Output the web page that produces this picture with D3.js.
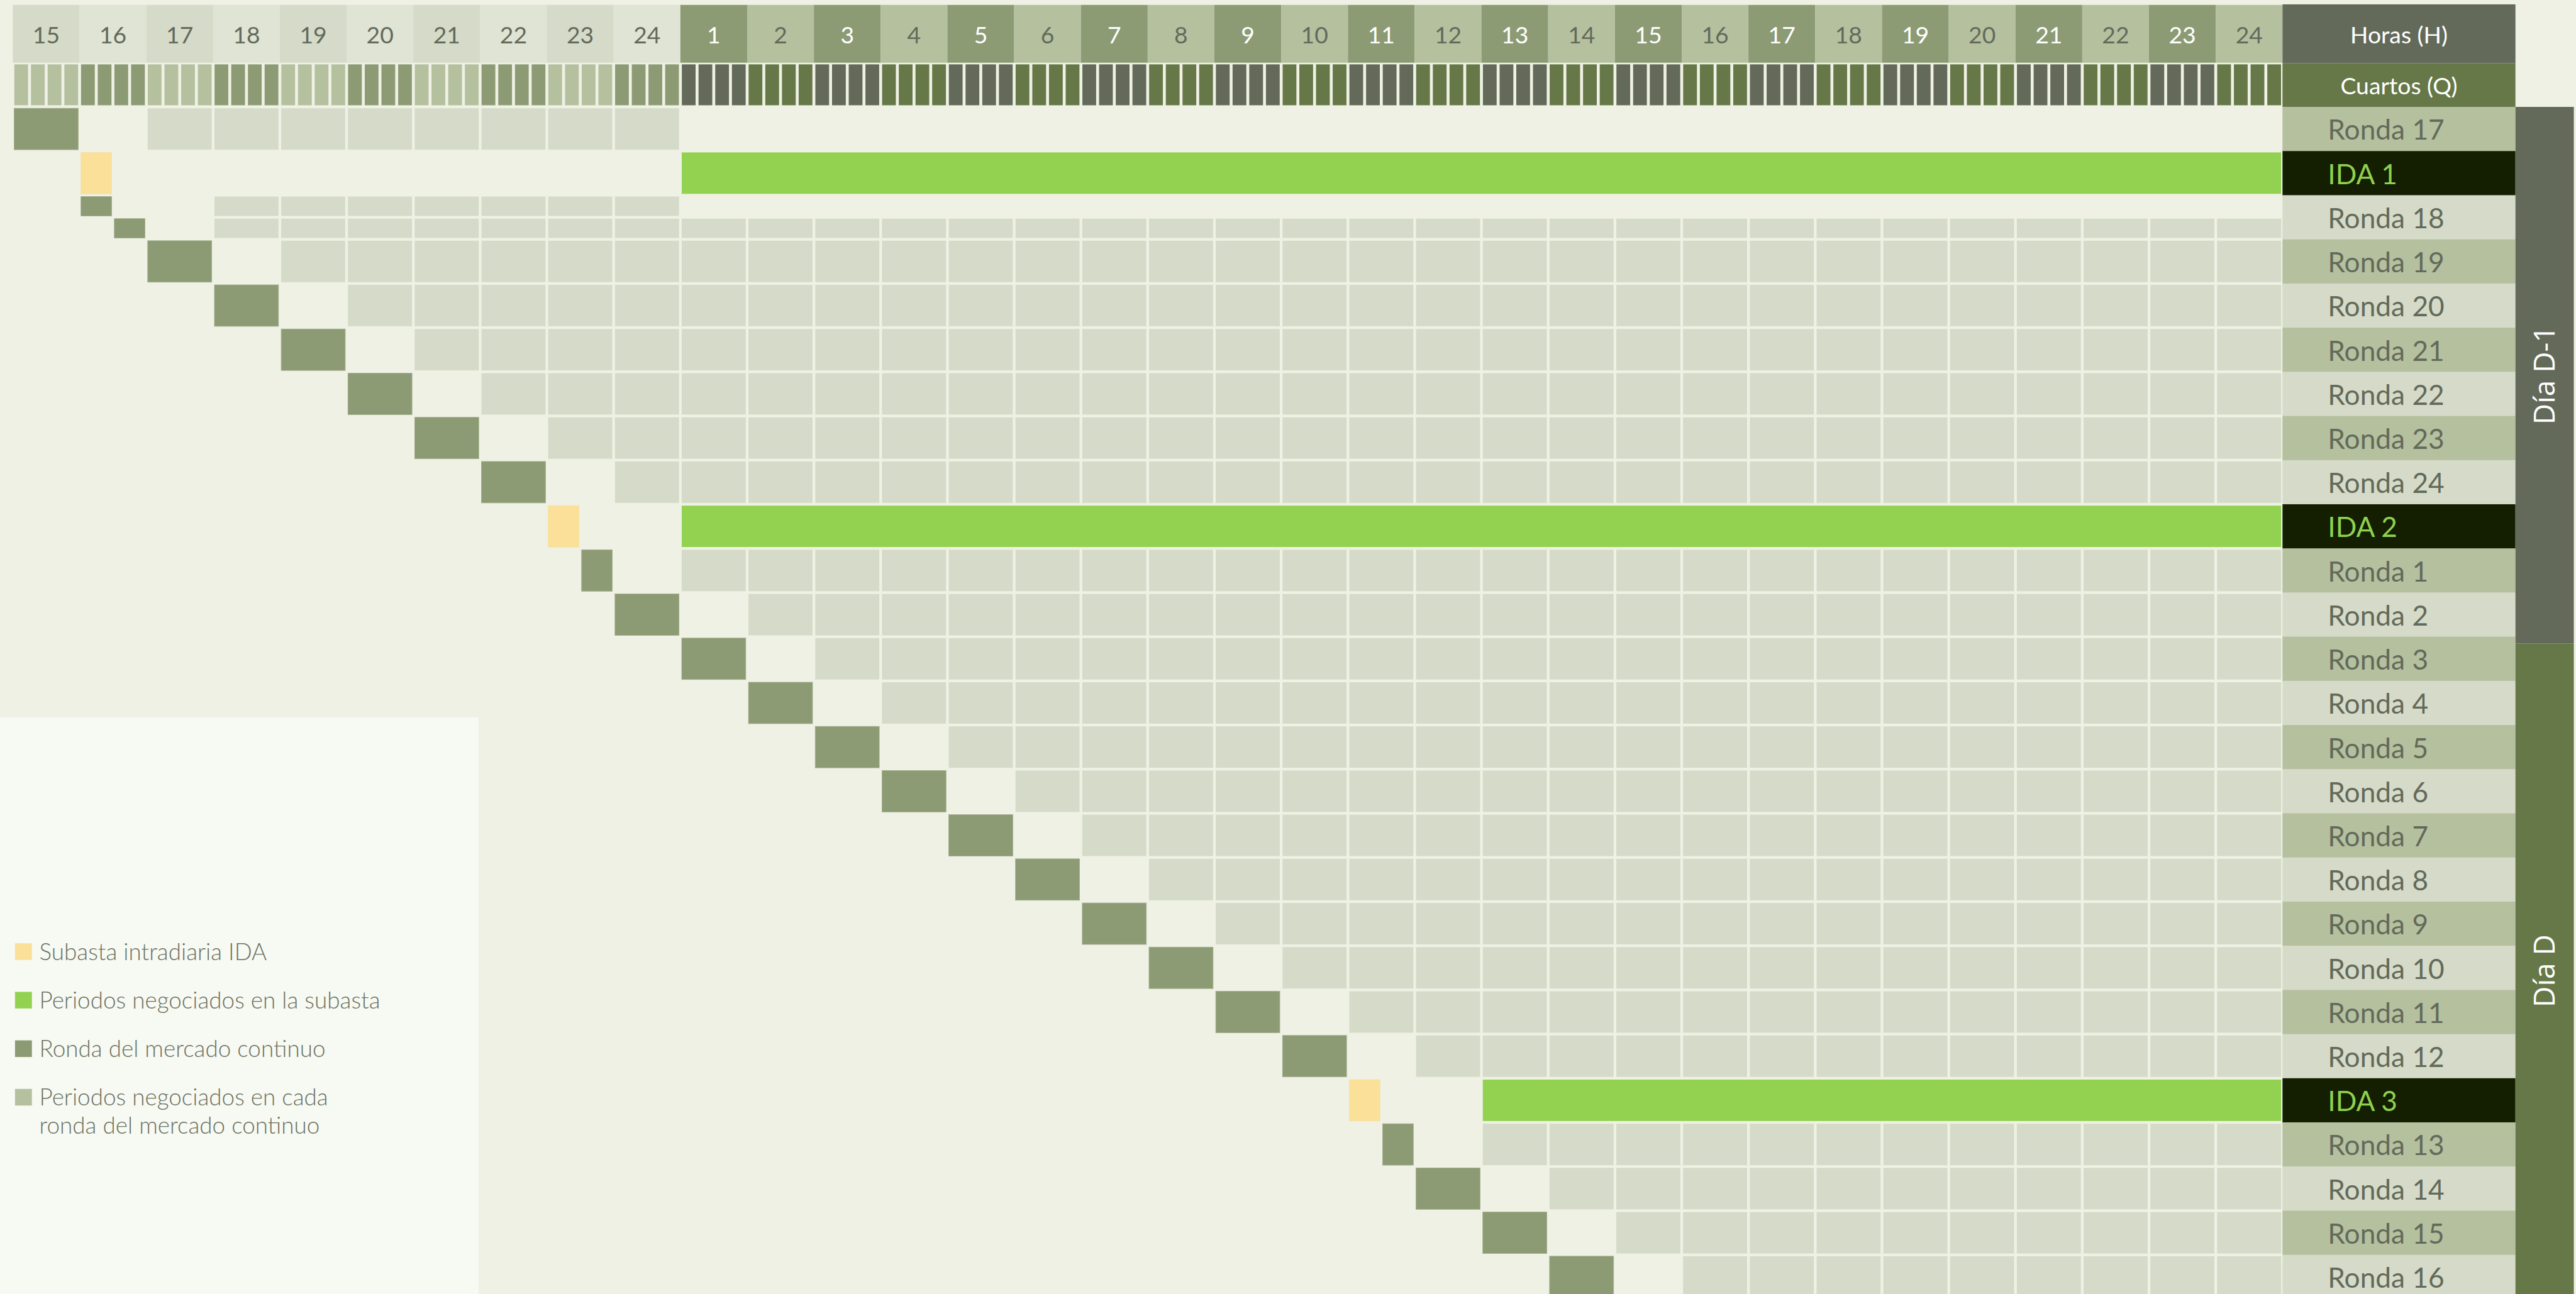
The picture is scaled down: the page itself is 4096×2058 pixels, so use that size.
<!DOCTYPE html>
<html>
<head>
<meta charset="utf-8">
<script src="https://cdn.jsdelivr.net/npm/d3@7/dist/d3.min.js"></script>
<style>
  html, body { margin: 0; padding: 0; background: #eef1e4; overflow: hidden; }
  svg { display: block; }
</style>
</head>
<body>
<svg id="chart"></svg>
<script>
// hour columns: day D-1 from 15h, then the 24 hours of day D
var hoursD1 = [15, 16, 17, 18, 19, 20, 21, 22, 23, 24];
var hoursD = [1, 2, 3, 4, 5, 6, 7, 8, 9, 10, 11, 12, 13, 14, 15, 16, 17, 18, 19, 20, 21, 22, 23, 24];

var rowLabels = ["Ronda 17", "IDA 1", "Ronda 18", "Ronda 19", "Ronda 20", "Ronda 21", "Ronda 22",
  "Ronda 23", "Ronda 24", "IDA 2", "Ronda 1", "Ronda 2", "Ronda 3", "Ronda 4", "Ronda 5", "Ronda 6",
  "Ronda 7", "Ronda 8", "Ronda 9", "Ronda 10", "Ronda 11", "Ronda 12", "IDA 3", "Ronda 13",
  "Ronda 14", "Ronda 15", "Ronda 16"];

// one entry per session: row, part of the row (0 whole, 1 upper half, 2 lower half),
// start/end in hours counted from 15h of D-1, and first/last traded column
var sesRow    = [0, 1, 2, 2,   3, 4, 5, 6, 7, 8, 9, 10,  11, 12, 13, 14, 15, 16, 17, 18, 19, 20, 21, 22, 23,   24, 25, 26];
var sesPart   = [0, 0, 1, 2,   0, 0, 0, 0, 0, 0, 0, 0,   0, 0, 0, 0, 0, 0, 0, 0, 0, 0, 0, 0, 0,   0, 0, 0];
var sesStart  = [0, 1, 1, 1.5, 2, 3, 4, 5, 6, 7, 8, 8.5, 9, 10, 11, 12, 13, 14, 15, 16, 17, 18, 19, 20, 20.5, 21, 22, 23];
var sesEnd    = [1, 1.5, 1.5, 2, 3, 4, 5, 6, 7, 8, 8.5, 9, 10, 11, 12, 13, 14, 15, 16, 17, 18, 19, 20, 20.5, 21, 22, 23, 24];
var tradeFrom = [2, 10, 3, 3,  4, 5, 6, 7, 8, 9, 10, 10, 11, 12, 13, 14, 15, 16, 17, 18, 19, 20, 21, 22, 22, 23, 24, 25];
var tradeTo   = [9, 33, 9, 33, 33, 33, 33, 33, 33, 33, 33, 33, 33, 33, 33, 33, 33, 33, 33, 33, 33, 33, 33, 33, 33, 33, 33, 33];

var legendLabels = [["Subasta intradiaria IDA"], ["Periodos negociados en la subasta"],
  ["Ronda del mercado continuo"], ["Periodos negociados en cada", "ronda del mercado continuo"]];
var dayLabels = ["Día D-1", "Día D"];

// colours
var bg = "#eef1e4", cellLight = "#d5dbc8", cellDark = "#8d9b74", aucYellow = "#fae098",
    aucGreen = "#93d250", midGreen = "#b5c09f", greyGreen = "#636a5a", olive = "#667848",
    idaBg = "#131f00", idaText = "#8fd14f", textGrey = "#636a5a";

var W = 4096, H = 2058;
var k = W / 4722; // drawn in reference units, then scaled

var svg = d3.select("#chart").attr("width", W).attr("height", H);
svg.append("rect").attr("width", W).attr("height", H).attr("fill", bg);
var g = svg.append("g").attr("transform", "scale(" + k + ")");

var nCols = hoursD1.length + hoursD.length;
var x = d3.scaleLinear().domain([0, nCols]).range([23.5, 4184]);
var y = d3.scaleBand().domain(d3.range(rowLabels.length)).range([196, 196 + rowLabels.length * 80.95]);
var pad = 2.5;

var cols = hoursD1.map(function(h, i) { return {h: h, day: 0, i: i}; })
  .concat(hoursD.map(function(h, i) { return {h: h, day: 1, i: i}; }));
cols.forEach(function(c, i) { c.c = i; });

// legend panel (behind the grid)
g.append("rect").attr("x", 0).attr("y", 1315).attr("width", 877).attr("height", 1100).attr("fill", "#f7f9f3");

// ---- header: hours
g.selectAll("rect.hour").data(cols).enter().append("rect")
  .attr("class", "hour")
  .attr("x", function(d) { return x(d.c); })
  .attr("y", 9)
  .attr("width", function(d) { return x(d.c + 1) - x(d.c); })
  .attr("height", 106)
  .attr("fill", function(d) {
    if (d.day === 0) return d.i % 2 === 0 ? "#d5dbc8" : "#dfe4d4";
    return d.i % 2 === 0 ? cellDark : midGreen;
  });

g.selectAll("text.hour").data(cols).enter().append("text")
  .attr("x", function(d) { return (x(d.c) + x(d.c + 1)) / 2; })
  .attr("y", 80)
  .attr("text-anchor", "middle")
  .style("font-family", "Lato, sans-serif")
  .style("font-size", "43px")
  .attr("fill", function(d) { return (d.day === 1 && d.i % 2 === 0) ? "#ffffff" : textGrey; })
  .text(function(d) { return d.h; });

// ---- header: quarters
var quarters = [];
cols.forEach(function(c) { for (var q = 0; q < 4; q++) quarters.push({c: c.c, q: q, day: c.day, i: c.i}); });
g.selectAll("rect.quarter").data(quarters).enter().append("rect")
  .attr("x", function(d) { return x(d.c + d.q / 4) + 2.7; })
  .attr("y", 118)
  .attr("width", function(d) { return x(d.c + (d.q + 1) / 4) - x(d.c + d.q / 4) - 5.4; })
  .attr("height", 75)
  .attr("fill", function(d) {
    if (d.day === 0) return d.i % 2 === 0 ? midGreen : cellDark;
    return d.i % 2 === 0 ? greyGreen : olive;
  });

// ---- header boxes on the right
g.append("rect").attr("x", 4184).attr("y", 8).attr("width", 427).attr("height", 108).attr("fill", greyGreen);
g.append("rect").attr("x", 4184).attr("y", 116).attr("width", 427).attr("height", 80).attr("fill", olive);
g.append("text").attr("x", 4397.5).attr("y", 79).attr("text-anchor", "middle")
  .style("font-family", "Lato, sans-serif").style("font-size", "43px").attr("fill", "#ffffff").text("Horas (H)");
g.append("text").attr("x", 4397.5).attr("y", 172.5).attr("text-anchor", "middle")
  .style("font-family", "Lato, sans-serif").style("font-size", "43px").attr("fill", "#ffffff").text("Cuartos (Q)");

// ---- sessions
var sessions = sesRow.map(function(r, i) {
  return {row: r, part: sesPart[i], start: sesStart[i], end: sesEnd[i],
          from: tradeFrom[i], to: tradeTo[i], ida: rowLabels[r].indexOf("IDA") === 0};
});

function cellTop(d) {
  var t = y(d.row), m = t + y.bandwidth() / 2;
  return d.part === 2 ? m + pad : t + pad;
}
function cellBottom(d) {
  var t = y(d.row), m = t + y.bandwidth() / 2;
  return d.part === 1 ? m - pad : t + y.bandwidth() - pad;
}

// traded periods: light cells per hour for continuous rounds, one green bar for the auctions
var traded = [];
sessions.forEach(function(s) {
  if (s.ida) {
    traded.push({s: s, x0: s.from, x1: s.to + 1, fill: aucGreen});
  } else {
    for (var c = s.from; c <= s.to; c++) traded.push({s: s, x0: c, x1: c + 1, fill: cellLight});
  }
});

g.selectAll("rect.traded").data(traded).enter().append("rect")
  .attr("x", function(d) { return x(d.x0) + pad; })
  .attr("y", function(d) { return cellTop(d.s); })
  .attr("width", function(d) { return x(d.x1) - x(d.x0) - 2 * pad; })
  .attr("height", function(d) { return cellBottom(d.s) - cellTop(d.s); })
  .attr("fill", function(d) { return d.fill; });

g.selectAll("rect.session").data(sessions).enter().append("rect")
  .attr("x", function(d) { return x(d.start) + pad; })
  .attr("y", cellTop)
  .attr("width", function(d) { return x(d.end) - x(d.start) - 2 * pad; })
  .attr("height", function(d) { return cellBottom(d) - cellTop(d); })
  .attr("fill", function(d) { return d.ida ? aucYellow : cellDark; })
  .attr("stroke", function(d) { return d.ida ? "#f6e2a6" : "#a2ac8c"; })
  .attr("stroke-width", 1);

// ---- row labels
var rowG = g.selectAll("g.rowlabel").data(rowLabels).enter().append("g")
  .attr("transform", function(d, i) { return "translate(4184," + y(i) + ")"; });
rowG.append("rect")
  .attr("width", 427)
  .attr("height", y.bandwidth() + 0.5)
  .attr("fill", function(d) {
    if (d.indexOf("IDA") === 0) return idaBg;
    return (+d.split(" ")[1]) % 2 === 1 ? midGreen : cellLight;
  });
rowG.append("text")
  .attr("x", 83)
  .attr("y", y.bandwidth() / 2 + 20)
  .style("font-family", "Lato, sans-serif")
  .style("font-size", "51px")
  .attr("fill", function(d) { return d.indexOf("IDA") === 0 ? idaText : textGrey; })
  .text(function(d) { return d; });

// ---- day bands
var bands = [{label: dayLabels[0], y0: 196, y1: 1180, fill: greyGreen},
             {label: dayLabels[1], y0: 1180, y1: 2400, fill: olive}];
g.selectAll("rect.band").data(bands).enter().append("rect")
  .attr("x", 4611).attr("y", function(d) { return d.y0; })
  .attr("width", 107).attr("height", function(d) { return d.y1 - d.y0; })
  .attr("fill", function(d) { return d.fill; });
g.selectAll("text.band").data(bands).enter().append("text")
  .attr("transform", function(d) {
    var cy = d.y1 > 2373 ? (d.y0 + 2380) / 2 : (d.y0 + d.y1) / 2;
    return "translate(4683," + cy + ") rotate(-90)";
  })
  .attr("text-anchor", "middle")
  .style("font-family", "'Open Sans', sans-serif")
  .style("font-size", "53px")
  .attr("fill", "#ffffff")
  .text(function(d) { return d.label; });

// ---- legend
var legendColors = [aucYellow, aucGreen, cellDark, midGreen];
var leg = g.selectAll("g.legend").data(legendLabels).enter().append("g")
  .attr("transform", function(d, i) { return "translate(0," + (1760 + i * 89) + ")"; });
leg.append("rect").attr("x", 27.5).attr("y", -30.5).attr("width", 31).attr("height", 30.5)
  .attr("fill", function(d, i) { return legendColors[i]; });
leg.each(function(lines) {
  var t = d3.select(this).append("text")
    .style("font-family", "Lato, sans-serif")
    .style("font-size", "42.5px")
    .style("font-weight", 300)
    .attr("fill", "#6b7260");
  lines.forEach(function(l, j) {
    t.append("tspan").attr("x", 72).attr("y", j * 51).text(l);
  });
});
</script>
</body>
</html>
